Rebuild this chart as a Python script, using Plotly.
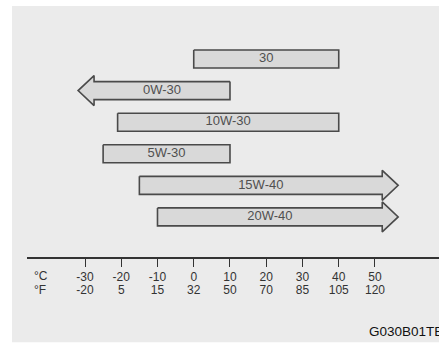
import plotly.graph_objects as go

# %%
grades = ["30", "0W-30", "10W-30", "5W-30", "15W-40", "20W-40"]
low_c = [0, -27.5, -21, -25, -15, -10]
high_c = [40, 10, 40, 10, 52, 52]
arrow = ["", "left", "", "", "right", "right"]

celsius = [-30, -20, -10, 0, 10, 20, 30, 40, 50]
fahrenheit = [-20, 5, 15, 32, 50, 70, 85, 105, 120]

panel = "#ebebeb"
fill = "#d9d9d9"
edge = "#4a4a4a"
h, H, L = 0.285, 0.475, 4.4  # body half-height, head half-height, head length

fig = go.Figure()

for i, (lo, hi, a) in enumerate(zip(low_c, high_c, arrow)):
    if a == "right":
        xs = [lo, hi, hi, hi + L, hi, hi, lo, lo]
        ys = [i - h, i - h, i - H, i, i + H, i + h, i + h, i - h]
    elif a == "left":
        xs = [hi, lo, lo, lo - L, lo, lo, hi, hi]
        ys = [i - h, i - h, i - H, i, i + H, i + h, i + h, i - h]
    else:
        xs = [lo, hi, hi, lo, lo]
        ys = [i - h, i - h, i + h, i + h, i - h]
    fig.add_trace(
        go.Scatter(
            x=xs,
            y=ys,
            mode="lines",
            fill="toself",
            fillcolor=fill,
            line=dict(color=edge, width=1.6),
            hoverinfo="skip",
            showlegend=False,
        )
    )

fig.add_trace(
    go.Scatter(
        x=[(lo + hi) / 2 for lo, hi in zip(low_c, high_c)],
        y=list(range(len(grades))),
        mode="text",
        text=grades,
        textfont=dict(family="Liberation Sans, Arial", size=13, color="#505050"),
        showlegend=False,
    )
)
# dummy trace so the second (°F) axis is drawn
fig.add_trace(go.Scatter(x=[0], y=[0], xaxis="x2", mode="markers", opacity=0, showlegend=False))

fig.add_shape(
    type="rect", xref="paper", yref="paper",
    x0=-0.0364, x1=1.01, y0=-0.34, y1=1.0,
    fillcolor=panel, line_width=0, layer="below",
)

for label, shift in [("°C", -19), ("°F", -33)]:
    fig.add_annotation(text=label, xref="paper", yref="paper", x=0.0146, y=0, yshift=shift,
                       xanchor="left", yanchor="middle", showarrow=False, borderpad=0,
                       font=dict(size=12, color="#333"))
fig.add_annotation(text="G030B01TE", xref="paper", yref="paper", x=0.825, y=0, yshift=-74,
                   xanchor="left", yanchor="middle", showarrow=False,
                   font=dict(size=13.5, color="#111"))

tickfont = dict(family="Liberation Sans, Arial", size=12, color="#333")
fig.update_layout(
    width=439,
    height=343,
    margin=dict(l=27, r=0, t=6, b=86),
    paper_bgcolor="white",
    plot_bgcolor="rgba(0,0,0,0)",
    xaxis=dict(
        range=[-46.0, 67.66],
        tickvals=celsius,
        ticktext=[str(c) for c in celsius],
        ticks="outside", ticklen=8, tickcolor="#333", tickwidth=1,
        showline=True, linecolor="#333", linewidth=1.5,
        showgrid=False, zeroline=False, tickfont=tickfont,
    ),
    xaxis2=dict(
        overlaying="x", matches="x", side="bottom", anchor="y",
        tickvals=celsius,
        ticktext=[str(f) for f in fahrenheit],
        ticks="", ticklabelstandoff=24,
        showline=False, showgrid=False, zeroline=False, tickfont=tickfont,
    ),
    yaxis=dict(range=[6.27, -1.68], visible=False),
    font=dict(family="Liberation Sans, Arial"),
)

fig.write_html("out.html", config={"displayModeBar": False},
               post_script="document.body.style.margin='0';")
